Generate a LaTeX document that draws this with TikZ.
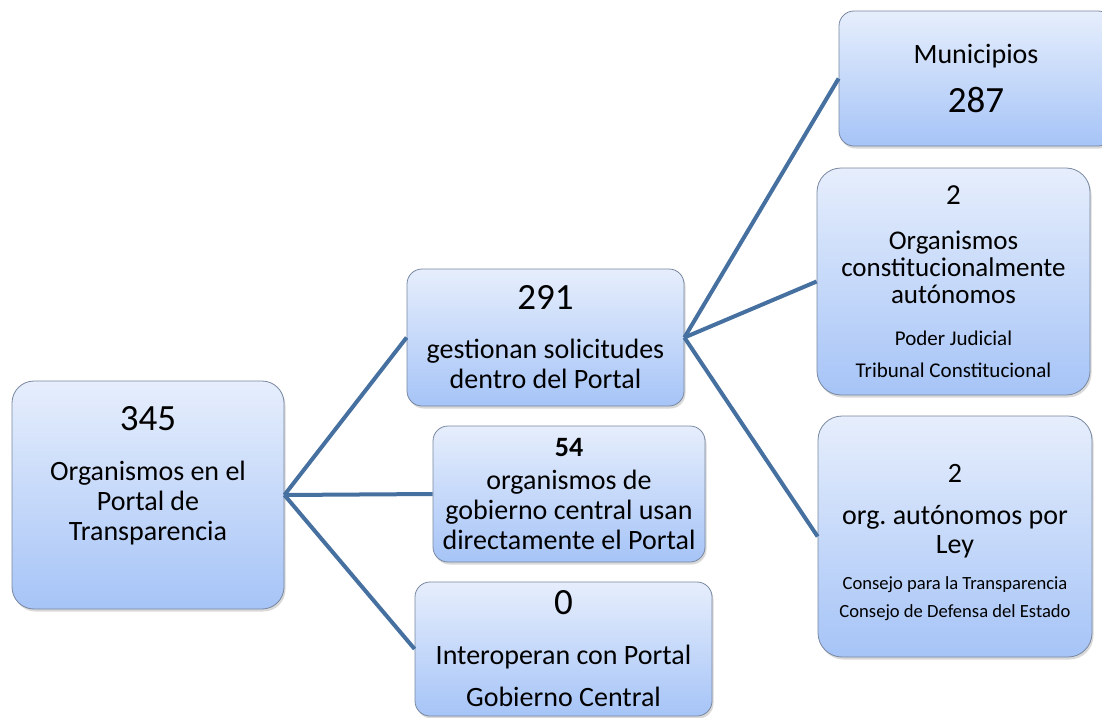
\documentclass[tikz,border=0pt]{standalone}
\usepackage{fontspec}
\setmainfont{Carlito}
\usetikzlibrary{shadows}
\frenchspacing

\definecolor{boxtop}{RGB}{230,238,252}
\definecolor{boxbot}{RGB}{166,196,247}
\definecolor{boxedge}{RGB}{120,135,160}
\definecolor{linkblue}{RGB}{70,112,160}

\newcommand{\bignum}{\fontsize{37}{40}\selectfont}
\newcommand{\midnum}{\fontsize{29}{30}\selectfont}
\newcommand{\smalltxt}{\fontsize{21}{24}\selectfont}
\newcommand{\tinytxt}{\fontsize{18.6}{22}\selectfont}

\tikzset{
  orgbox/.style={draw=boxedge, line width=0.8pt, rounded corners=15pt,
    top color=boxtop, bottom color=boxbot, align=center, inner sep=0pt,
    drop shadow={shadow xshift=1.5pt, shadow yshift=-2.5pt, opacity=0.3},
    font=\fontsize{28}{30}\selectfont},
  link/.style={line width=4pt, draw=linkblue},
}

\begin{document}
\begin{tikzpicture}[x=1pt, y=-1pt]
  \useasboundingbox (0,0) rectangle (1102,717);

  \node[orgbox, rounded corners=22pt, minimum width=272, minimum height=228] (root) at (148, 495)
       {{\bignum 345}\\[20pt] Organismos en el\\ Portal de\\ Transparencia\\[13pt]\mbox{}};
  \node[orgbox, minimum width=277, minimum height=137] (sol) at (545.5, 337.5)
       {{\bignum 291}\\[19pt] gestionan solicitudes\\ dentro del Portal};
  \node[orgbox, minimum width=272, minimum height=136] (cen) at (569, 494)
       {\textbf{54}\\[3pt] organismos de\\ gobierno central usan\\ directamente el Portal};
  \node[orgbox, minimum width=297, minimum height=134] (intop) at (563.5, 649)
       {{\bignum 0}\\[20pt] Interoperan con Portal\\[12pt] Gobierno Central};

  \node[orgbox, minimum width=274, minimum height=135] (muni) at (976, 78.5)
       {Municipios\\[19pt] {\bignum 287}};
  \node[orgbox, rounded corners=24pt, minimum width=273, minimum height=227,
        font=\fontsize{27}{27}\selectfont] (cons) at (953.5, 281.5)
       {{\midnum 2}\\[18pt] Organismos\\ constitucionalmente\\ autónomos\\[15pt]
        {\smalltxt Poder Judicial}\\[5pt] {\smalltxt Tribunal Constitucional}};
  \node[orgbox, rounded corners=24pt, minimum width=274, minimum height=241,
        font=\fontsize{28}{28}\selectfont] (ley) at (955, 536.5)
       {\mbox{}\\[2pt] 2\\[14pt] org. autónomos por\\[1pt] Ley\\[8pt]
        {\tinytxt Consejo para la Transparencia}\\ {\tinytxt Consejo de Defensa del Estado}};

  \draw[link] (root.east) -- (sol.west);
  \draw[link] (root.east) -- (cen.west);
  \draw[link] (root.east) -- (intop.west);
  \draw[link] (sol.east) -- (muni.west);
  \draw[link] (sol.east) -- (cons.west);
  \draw[link] (sol.east) -- (ley.west);
\end{tikzpicture}
\end{document}
